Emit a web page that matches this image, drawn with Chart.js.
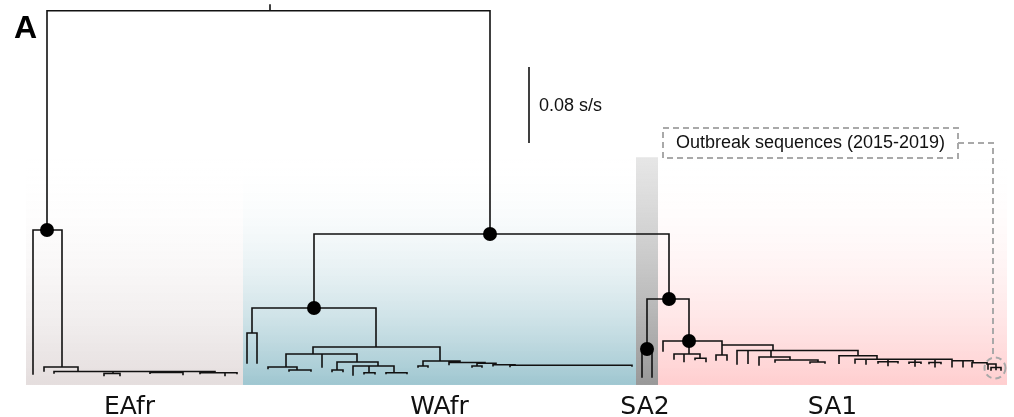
<!DOCTYPE html>
<html>
<head>
<meta charset="utf-8">
<script src="https://cdn.jsdelivr.net/npm/chart.js@4/dist/chart.umd.min.js"></script>
<style>
  html, body { margin: 0; padding: 0; background: #ffffff; }
  #wrap { width: 1014px; height: 417px; position: relative; }
</style>
</head>
<body>
<div id="wrap"><canvas id="c"></canvas></div>
<script>
// ---- Tree data: node id, parent id, layout position (x), divergence from root (s/s) ----
const nodeId = [
  's','root',
  'E0','e1','E2','e3','E4','e5','E6','e6a','e6b','E7','e7a','e7b','E8','e8a','e8b','e8c',
  'N1','W0','W1','w1a','w1b','W2','W3','W5','w5a','W7','w7a','w7b','w3b','W6','W8','w8a','w8b',
  'W9','w9a','W10','w10a','w10b','W11','w11a','w11b','W4','W12','w12a','w12b','W13','w13a',
  'W15','W16','w16a','w16b','W17','w17a','W18','w18a','w18b',
  'S0','A0','a0a','a0b','S1','s1a','A1','a1a','a1b','A3','a3a','a3b','A2','A6','a6a','a6b',
  'A7','a7a','a7b','B0','b0a','B1','b1a','B2','b2a','b2b','A8','a8a','A9','a9a','a9b',
  'A10','a10a','a10b','a10c','A11','a11a','a11b','a11c','A12','a12a','a12b','a12c',
  'A13','a13a','a13b','A14','a14a','A15','a15a','A16','a16a','a16b','a16c'
];
const nodeParent = [
  null,'s',
  'root','E0','E0','E2','E2','E4','E4','E6','E6','E4','E7','E7','E4','E8','E8','E8',
  'root','N1','W0','W1','W1','W0','W2','W3','W5','W5','W7','W7','W3','W3','W6','W8','W8',
  'W6','W9','W9','W10','W10','W9','W11','W11','W2','W4','W12','W12','W4','W13',
  'W13','W15','W16','W16','W15','W17','W17','W18','W18',
  'N1','S0','A0','A0','S0','S1','S1','A1','A1','A1','A3','A3','S1','A2','A6','A6',
  'A2','A7','A7','A7','B0','B0','B1','B1','B2','B2','A7','A8','A8','A9','A9',
  'A9','A10','A10','A10','A9','A11','A11','A11','A9','A12','A12','A12',
  'A9','A13','A13','A13','A14','A14','A15','A15','A16','A16','A16'
];
const nodeX = [
  270,270,
  47,33,62,44,78,54,113,104,120,168,150,183,215,200,225,237,
  490,314,252,247,257,376,313,286,268,297,289,311,322,357,337,332,343,
  378,353,369,364,375,394,386,407,440,423,418,428,460,449,
  485,477,472,482,496,493,515,510,632,
  669,647,642,652,689,663,689,674,684,700,695,706,722,722,716,727,
  773,737,748,771,759,790,775,818,810,825,858,839,877,855,866,
  888,878,888,898,915,909,915,921,935,929,935,941,
  952,952,963,973,972,987,988,996,991,1001,996
];
const nodeDepth = [
  -0.0053,0.0008,
  0.2316,0.3832,0.3758,0.3800,0.3805,0.3821,0.3826,0.3847,0.3847,0.3816,0.3823,0.3837,0.3819,0.3826,0.3847,0.3826,
  0.2358,0.3137,0.3400,0.3716,0.3716,0.3547,0.3621,0.3758,0.3774,0.3789,0.3800,0.3800,0.3758,0.3705,0.3789,0.3805,0.3805,
  0.3747,0.3842,0.3818,0.3828,0.3828,0.3818,0.3826,0.3826,0.3695,0.3747,0.3758,0.3758,0.3711,0.3732,
  0.3719,0.3747,0.3758,0.3758,0.3734,0.3744,0.3740,0.3753,0.3747,
  0.3042,0.3568,0.3863,0.3863,0.3484,0.3589,0.3621,0.3674,0.3700,0.3666,0.3679,0.3700,0.3526,0.3632,0.3684,0.3684,
  0.3584,0.3726,0.3719,0.3653,0.3737,0.3684,0.3705,0.3705,0.3716,0.3716,0.3639,0.3719,0.3677,0.3716,0.3726,
  0.3702,0.3716,0.3742,0.3713,0.3708,0.3719,0.3747,0.3719,0.3711,0.3721,0.3755,0.3721,
  0.3692,0.3755,0.3755,0.3713,0.3755,0.3726,0.3779,0.3763,0.3789,0.3789,0.3784
];
// nodes with strong support (black dots)
const supportedNodes = ['E0','N1','W0','S0','A0','S1'];

// ---- Clades ----
const cladeNames = ['EAfr','WAfr','SA2','SA1'];
const cladeFrom  = [26, 243, 636, 658];
const cladeTo    = [243, 636, 658, 1007];

// ---- Scale bar ----
const scaleBarLength = 0.08;   // s/s
const scaleBarLabel = '0.08 s/s';
const outbreakLabel = 'Outbreak sequences (2015-2019)';
const panelLabel = 'A';

// ---- Build segments ----
const idx = {};
nodeId.forEach((id, i) => { idx[id] = i; });
const kids = nodeId.map(() => []);
nodeParent.forEach((p, i) => { if (p !== null) kids[idx[p]].push(i); });
const treePts = [];
nodeId.forEach((id, i) => {
  const p = nodeParent[i];
  if (p !== null) {
    const j = idx[p];
    treePts.push({x: nodeX[i], y: nodeDepth[j]}, {x: nodeX[i], y: nodeDepth[i]}, {x: nodeX[i], y: null});
  }
  if (kids[i].length) {
    const xs = kids[i].map(k => nodeX[k]);
    const lo = Math.min(...xs), hi = Math.max(...xs);
    if (hi > lo) treePts.push({x: lo, y: nodeDepth[i]}, {x: hi, y: nodeDepth[i]}, {x: hi, y: null});
  }
});
const dotPts = supportedNodes.map(id => ({x: nodeX[idx[id]], y: nodeDepth[idx[id]]}));
const scaleBarPts = [{x: 529, y: 0.06}, {x: 529, y: 0.06 + scaleBarLength}];

// ---- Styles ----
const cladeBottom = ['rgba(228,221,221,1)', 'rgba(158,198,208,1)', 'rgba(152,152,152,1)', 'rgba(255,206,207,1)'];
const cladeTop    = ['rgba(255,255,255,0)', 'rgba(255,255,255,0)', 'rgba(200,200,200,0.45)', 'rgba(255,255,255,0)'];

const decor = {
  id: 'decor',
  beforeDatasetsDraw(chart) {
    const {ctx, scales: {x, y}} = chart;
    const top = y.getPixelForValue(0.155), bot = y.getPixelForValue(0.3947);
    ctx.save();
    cladeNames.forEach((n, i) => {
      const x0 = x.getPixelForValue(cladeFrom[i]), x1 = x.getPixelForValue(cladeTo[i]);
      const g = ctx.createLinearGradient(0, top, 0, bot);
      g.addColorStop(0, cladeTop[i]);
      g.addColorStop(1, cladeBottom[i]);
      ctx.fillStyle = g;
      ctx.fillRect(x0, top, x1 - x0, bot - top);
    });
    ctx.restore();
  },
  afterDatasetsDraw(chart) {
    const {ctx, scales: {x, y}} = chart;
    ctx.save();
    // clade labels
    ctx.fillStyle = '#111';
    ctx.font = '25px "DejaVu Sans"';
    ctx.textAlign = 'center';
    ctx.textBaseline = 'alphabetic';
    cladeNames.forEach((n, i) => {
      const cx = (x.getPixelForValue(cladeFrom[i]) + x.getPixelForValue(cladeTo[i])) / 2;
      ctx.fillText(n, cx - (i === 0 ? 5 : (i === 2 ? 2 : 0)), 414);
    });
    // panel label
    ctx.font = 'bold 32px "Liberation Sans", Arial, sans-serif';
    ctx.textAlign = 'left';
    ctx.fillStyle = '#000';
    ctx.fillText(panelLabel, 14, 38);
    // scale bar label
    ctx.font = '18px "Liberation Sans", Arial, sans-serif';
    ctx.textBaseline = 'middle';
    ctx.fillStyle = '#111';
    const sbMid = (y.getPixelForValue(scaleBarPts[0].y) + y.getPixelForValue(scaleBarPts[1].y)) / 2;
    ctx.fillText(scaleBarLabel, x.getPixelForValue(529) + 10, sbMid + 1);
    // outbreak annotation
    ctx.strokeStyle = '#a9a9a9';
    ctx.lineWidth = 2;
    ctx.setLineDash([6, 4]);
    ctx.strokeRect(663, 128, 295, 30);
    ctx.beginPath();
    ctx.moveTo(958, 143);
    ctx.lineTo(993, 143);
    ctx.lineTo(993, 357);
    ctx.stroke();
    ctx.beginPath();
    ctx.arc(995, 368, 10.5, 0, Math.PI * 2);
    ctx.stroke();
    ctx.setLineDash([]);
    ctx.textAlign = 'center';
    ctx.fillStyle = '#111';
    ctx.fillText(outbreakLabel, 810.5, 143.5);
    ctx.restore();
  }
};

new Chart(document.getElementById('c'), {
  type: 'scatter',
  data: {
    datasets: [
      { data: dotPts, pointRadius: 7, pointHoverRadius: 7, pointBackgroundColor: '#000', pointBorderWidth: 0, showLine: false, order: 0, clip: false },
      { type: 'line', data: treePts, borderColor: '#111', borderWidth: 1.6, pointRadius: 0, tension: 0, spanGaps: false, borderCapStyle: 'square', fill: false, order: 1, clip: false },
      { type: 'line', data: scaleBarPts, borderColor: '#111', borderWidth: 1.6, pointRadius: 0, tension: 0, fill: false, order: 1, clip: false }
    ]
  },
  options: {
    responsive: true,
    maintainAspectRatio: false,
    animation: false,
    layout: { padding: 0, autoPadding: false },
    plugins: { legend: { display: false }, tooltip: { enabled: false } },
    events: [],
    scales: {
      x: { type: 'linear', min: 0, max: 1014, display: false },
      y: { type: 'linear', min: -0.010526, max: 0.428421, reverse: true, display: false }
    }
  },
  plugins: [decor]
});
</script>
</body>
</html>
